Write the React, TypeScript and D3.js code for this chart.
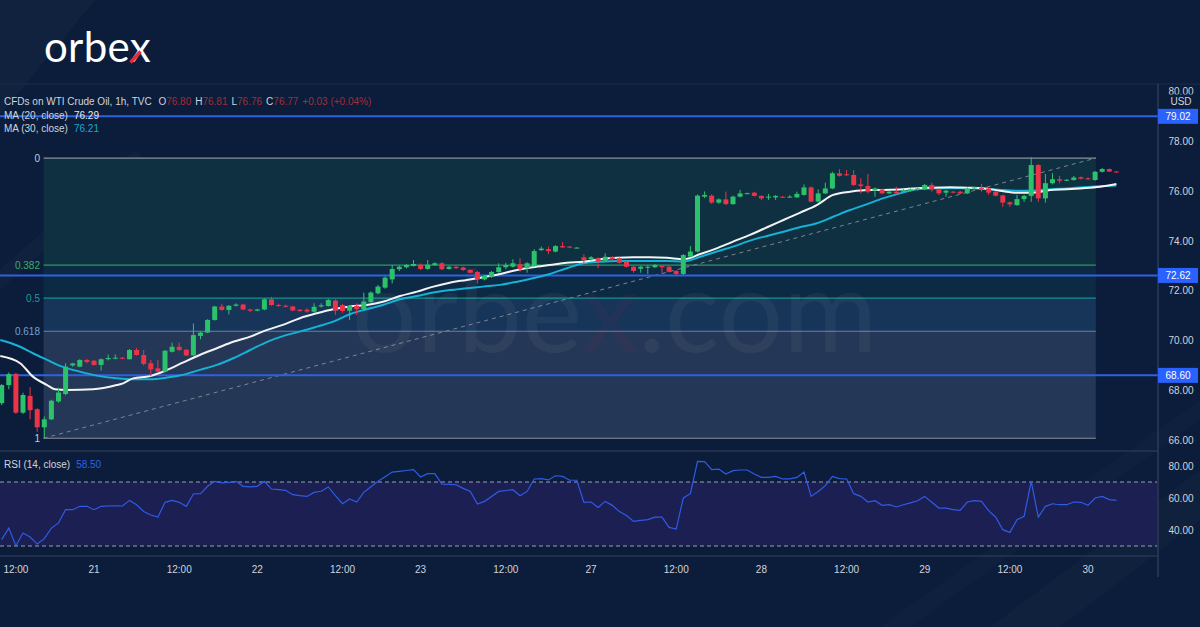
import React from 'react';
import * as d3 from 'd3';

// ---- Candle data (hourly, WTI CFD) ----
const opens = [
  67.48, 68.21, 68.66, 67.10, 67.77, 67.24, 66.51, 66.83, 67.55, 67.85,
  69.00, 68.95, 69.22, 69.19, 69.02, 69.25, 69.27, 69.31, 69.25, 69.62,
  69.42, 69.09, 68.88, 68.75, 69.55, 69.75, 69.63, 69.40, 70.19, 70.32,
  70.83, 71.37, 71.23, 71.40, 71.45, 71.25, 71.20, 71.25, 71.66, 71.43,
  71.40, 71.37, 71.24, 71.24, 71.16, 71.37, 71.39, 71.61, 71.43, 71.20,
  71.40, 71.26, 71.55, 71.90, 72.13, 72.46, 72.87, 72.95, 73.00, 73.05,
  72.88, 73.04, 73.11, 72.88, 72.97, 72.94, 72.84, 72.76, 72.46, 72.57,
  72.76, 72.95, 72.97, 73.07, 72.91, 73.00, 73.64, 73.68, 73.58, 73.80,
  73.78, 73.73, 73.35, 73.28, 73.31, 73.21, 73.35, 73.31, 73.17, 72.97,
  72.89, 72.95, 72.95, 73.00, 72.97, 72.80, 72.68, 73.38, 73.58, 75.79,
  75.83, 75.55, 75.68, 75.49, 75.79, 75.91, 75.95, 75.82, 75.75, 75.76,
  75.79, 75.78, 75.76, 75.86, 76.16, 75.59, 75.92, 76.12, 76.73, 76.69,
  76.66, 76.28, 76.22, 76.03, 76.08, 75.92, 75.99, 75.99, 76.03, 76.06,
  76.08, 76.26, 76.08, 75.95, 75.99, 75.99, 75.92, 76.12, 76.15, 76.12,
  75.99, 75.84, 75.56, 75.45, 75.69, 75.82, 77.06, 75.72, 76.33, 76.49,
  76.45, 76.46, 76.57, 76.53, 76.46, 76.79, 76.90, 76.80,
];
const highs = [
  68.25, 68.72, 68.70, 67.90, 68.12, 67.28, 66.95, 67.62, 68.10, 69.09,
  69.10, 69.25, 69.26, 69.22, 69.28, 69.44, 69.44, 69.34, 69.66, 69.70,
  69.62, 69.22, 69.22, 69.62, 69.92, 69.92, 69.66, 70.69, 70.36, 70.86,
  71.40, 71.48, 71.43, 71.50, 71.48, 71.28, 71.28, 71.70, 71.76, 71.48,
  71.45, 71.40, 71.27, 71.30, 71.50, 71.50, 71.68, 71.66, 71.47, 71.42,
  71.50, 71.93, 71.98, 72.24, 72.58, 73.04, 73.02, 73.08, 73.24, 73.10,
  73.24, 73.15, 73.15, 73.00, 73.00, 72.98, 72.86, 72.80, 72.64, 72.80,
  73.11, 73.13, 73.27, 73.31, 73.15, 73.68, 73.78, 73.78, 73.84, 73.96,
  73.80, 73.76, 73.47, 73.40, 73.34, 73.51, 73.40, 73.34, 73.20, 73.00,
  73.00, 73.02, 73.08, 73.02, 73.00, 72.83, 73.48, 73.80, 75.88, 76.00,
  75.88, 75.72, 75.99, 75.83, 76.06, 75.95, 75.98, 75.84, 75.90, 75.85,
  75.81, 75.85, 75.99, 76.28, 76.20, 76.08, 76.35, 76.79, 76.89, 76.86,
  76.86, 76.53, 76.70, 76.16, 76.11, 76.03, 76.19, 76.10, 76.12, 76.16,
  76.30, 76.35, 76.12, 76.06, 76.02, 76.02, 76.16, 76.19, 76.30, 76.15,
  76.02, 75.87, 75.59, 75.86, 75.86, 77.37, 77.10, 76.70, 76.73, 76.62,
  76.50, 76.62, 76.60, 76.56, 76.82, 76.94, 76.92, 76.81,
];
const lows = [
  67.40, 68.04, 67.05, 67.05, 66.83, 66.33, 66.07, 66.80, 67.50, 67.80,
  68.95, 68.93, 69.08, 69.00, 68.79, 69.20, 69.25, 69.25, 69.24, 69.40,
  69.00, 68.57, 68.72, 68.72, 69.52, 69.58, 69.38, 69.38, 70.05, 70.30,
  70.80, 71.20, 71.05, 71.37, 71.22, 71.15, 71.18, 71.22, 71.40, 71.36,
  71.33, 71.18, 71.15, 71.12, 71.12, 71.33, 71.36, 71.03, 71.12, 70.83,
  71.03, 71.22, 71.50, 71.86, 72.08, 72.30, 72.80, 72.90, 72.98, 72.84,
  72.85, 73.00, 72.84, 72.85, 72.88, 72.80, 72.70, 72.30, 72.42, 72.52,
  72.72, 72.87, 72.94, 72.77, 72.73, 72.96, 73.60, 73.48, 73.55, 73.72,
  73.72, 73.71, 73.11, 73.22, 72.91, 73.18, 73.24, 73.10, 72.94, 72.73,
  72.73, 72.68, 72.92, 72.68, 72.74, 72.60, 72.64, 73.35, 73.55, 75.73,
  75.50, 75.50, 75.45, 75.46, 75.76, 75.89, 75.80, 75.65, 75.66, 75.66,
  75.74, 75.74, 75.74, 75.83, 75.56, 75.56, 75.89, 76.09, 76.60, 76.62,
  76.22, 75.92, 75.92, 75.79, 75.89, 75.89, 75.89, 75.96, 76.00, 76.03,
  76.05, 75.99, 75.86, 75.79, 75.92, 75.89, 75.89, 76.09, 75.99, 75.86,
  75.80, 75.38, 75.38, 75.42, 75.58, 75.58, 75.58, 75.55, 76.28, 76.33,
  76.42, 76.43, 76.48, 76.46, 76.43, 76.76, 76.78, 76.76,
];
const closes = [
  68.21, 68.65, 67.10, 67.81, 67.20, 66.51, 66.83, 67.58, 67.91, 68.95,
  69.08, 69.22, 69.14, 69.02, 69.25, 69.30, 69.31, 69.27, 69.62, 69.42,
  69.06, 68.84, 68.75, 69.59, 69.75, 69.62, 69.40, 70.22, 70.32, 70.83,
  71.37, 71.23, 71.40, 71.45, 71.25, 71.20, 71.25, 71.66, 71.43, 71.39,
  71.37, 71.21, 71.19, 71.17, 71.36, 71.42, 71.63, 71.20, 71.19, 71.39,
  71.26, 71.57, 71.93, 72.17, 72.53, 72.88, 72.97, 73.04, 73.08, 72.88,
  73.05, 73.11, 72.87, 72.97, 72.91, 72.84, 72.73, 72.46, 72.60, 72.76,
  72.95, 73.04, 73.11, 72.87, 73.11, 73.60, 73.70, 73.60, 73.80, 73.75,
  73.74, 73.74, 73.24, 73.35, 73.18, 73.37, 73.27, 73.13, 72.97, 72.80,
  72.97, 72.97, 73.04, 72.95, 72.77, 72.68, 73.44, 73.58, 75.83, 75.86,
  75.55, 75.68, 75.49, 75.79, 75.92, 75.93, 75.82, 75.72, 75.79, 75.82,
  75.76, 75.79, 75.90, 76.16, 75.59, 75.92, 76.12, 76.73, 76.63, 76.65,
  76.26, 76.22, 75.99, 76.12, 75.92, 75.99, 75.92, 76.06, 76.08, 76.12,
  76.26, 76.08, 75.92, 76.03, 75.95, 75.92, 76.12, 76.16, 76.10, 75.95,
  75.83, 75.55, 75.48, 75.69, 75.82, 77.06, 75.72, 76.33, 76.49, 76.43,
  76.47, 76.56, 76.51, 76.49, 76.79, 76.90, 76.80, 76.77,
];

// ---- Moving averages (bar position, value) ----
const ma20Idx = [-0.2, 2.6, 4.4, 6.4, 7.5, 9.2, 12.9, 16.2, 17.1, 18.5, 20.9, 23.3, 25.5, 27.9, 30.3, 32.6, 35, 37.4, 39.6, 42, 44.4, 46.7, 49.1, 51.4, 53.7, 56.1, 58.5, 60.8, 63.1, 65.5, 67.8, 70.2, 72.6, 74.8, 77.2, 79.6, 81.9, 84.3, 86.7, 88.9, 91.3, 93.7, 96, 98.4, 100.7, 103, 105.4, 107.8, 110.1, 112.4, 114.8, 117.1, 119.5, 121.9, 124.1, 126.5, 128.9, 131.2, 133.6, 136, 138.2, 140.6, 143, 145.3, 147.7, 150, 152.3, 154.7, 157];
const ma20Val = [69.38, 69.09, 68.55, 68.21, 68.04, 68.01, 68.04, 68.21, 68.28, 68.48, 68.57, 68.82, 69.11, 69.42, 69.69, 69.95, 70.16, 70.43, 70.63, 70.9, 71.1, 71.26, 71.37, 71.43, 71.56, 71.79, 71.97, 72.17, 72.33, 72.44, 72.55, 72.68, 72.84, 72.95, 73.04, 73.13, 73.17, 73.27, 73.33, 73.35, 73.35, 73.33, 73.27, 73.48, 73.71, 73.98, 74.25, 74.56, 74.85, 75.14, 75.45, 75.86, 75.99, 76.06, 76.06, 76.08, 76.13, 76.15, 76.17, 76.15, 76.13, 76.03, 75.95, 75.95, 76.06, 76.09, 76.13, 76.19, 76.3];
const ma30Idx = [-0.2, 2.6, 4.4, 6.4, 8.2, 11, 13.8, 16.2, 18.5, 20.9, 23.3, 25.5, 27.9, 30.3, 32.6, 35, 37.4, 39.6, 42, 44.4, 46.7, 49.1, 51.4, 53.7, 56.1, 58.5, 60.8, 63.1, 65.5, 67.8, 70.2, 72.6, 74.8, 77.2, 79.6, 81.9, 84.3, 86.7, 88.9, 91.3, 93.7, 96, 98.4, 100.7, 103, 105.4, 107.8, 110.1, 112.4, 114.8, 117.1, 119.5, 121.9, 124.1, 126.5, 128.9, 131.2, 133.6, 136, 138.2, 140.6, 143, 145.3, 147.7, 150, 152.3, 154.7, 157];
const ma30Val = [70.02, 69.75, 69.49, 69.22, 68.98, 68.75, 68.57, 68.48, 68.44, 68.44, 68.51, 68.62, 68.82, 69.02, 69.29, 69.62, 69.95, 70.18, 70.36, 70.56, 70.76, 71.07, 71.26, 71.43, 71.66, 71.79, 71.93, 72.03, 72.1, 72.17, 72.24, 72.37, 72.51, 72.68, 72.91, 73.11, 73.17, 73.2, 73.2, 73.2, 73.2, 73.18, 73.37, 73.58, 73.78, 74.02, 74.21, 74.38, 74.56, 74.72, 74.98, 75.25, 75.49, 75.72, 75.92, 76.09, 76.13, 76.13, 76.13, 76.11, 76.06, 76.03, 76.03, 76.09, 76.12, 76.17, 76.21, 76.24];

// ---- RSI (14) per bar ----
const rsiVal = [
  34, 41.2, 30.2, 38.1, 35.6, 31.2, 34.6, 41.2, 44.4, 52.7,
  52.7, 54.8, 54.8, 52.7, 54.8, 55, 55.1, 55, 58.5, 55.8,
  51.6, 49.4, 48.1, 57.3, 58.5, 57.3, 54.8, 62.5, 62.7, 67.3,
  70.4, 69.4, 69.8, 70.4, 67.3, 66.9, 67.3, 70.4, 65.6, 65.2,
  64.8, 62.1, 61.5, 61, 63.5, 64.2, 66.9, 61.5, 56.4, 59.4,
  57.5, 63.5, 67, 70.4, 73.3, 76.2, 76.7, 77.2, 77.7, 73.1,
  75.2, 75.2, 68.7, 68.5, 68.3, 66, 64.1, 56.2, 57.9, 61,
  64.1, 64.7, 65.2, 61.4, 64.1, 71.9, 72.1, 71.3, 73.9, 73.5,
  71.1, 71.1, 57.3, 57.5, 54.1, 57.9, 55.4, 51.5, 49, 45.4,
  46, 46.5, 48, 48, 41.6, 40.6, 60, 62.7, 82.9, 82.7,
  77.7, 78.1, 75, 77.1, 77.5, 77.5, 75, 72.9, 72.9, 73.5,
  71.9, 71.9, 72.9, 76.2, 61, 64.1, 67.7, 73.5, 72.1, 71.9,
  62.7, 61, 57.5, 58.3, 55.4, 55.8, 54.4, 55.8, 57, 58.3,
  61, 57.3, 53.7, 53.7, 52.7, 52.3, 57.5, 58.3, 57.9, 52.1,
  48, 40.2, 38.5, 46.5, 48.5, 70.4, 48, 54.8, 56.4, 55.8,
  55.8, 57.5, 57.3, 55.4, 60, 61, 59, 58.5,
];

// ---- Axes / annotations ----
const priceTicks = [80, 78, 76, 74, 72, 70, 68, 66];
const rsiTicks = [80, 60, 40];
const rsiBands = [70, 30];
const levelPrices = [79.02, 72.62, 68.6];
const fibRatios = [0, 0.382, 0.5, 0.618, 1];
const fibLabels = ['0', '0.382', '0.5', '0.618', '1'];
const fibHigh = 77.34;
const fibLow = 66.07;
const fibStartIdx = 5.9;
const fibEndIdx = 154.1;
const timeTickIdx = [2, 13, 25, 36, 48, 59, 71, 83, 95, 107, 119, 130, 142, 153];
const timeTickLabels = ['12:00', '21', '12:00', '22', '12:00', '23', '12:00', '27', '12:00', '28', '12:00', '29', '12:00', '30'];

const FONT = '"Liberation Sans", Arial, sans-serif';
const BG = '#0b1d3a';
const UP = '#2cc26c';
const DOWN = '#ec3448';
const AXIS_TXT = '#d1d4dc';

export default function App() {
  const W = 1200;
  const H = 627;
  const plotR = 1158;
  const paneTop = 84;
  const priceBottom = 451;
  const rsiBottom = 556;

  const x = d3.scaleLinear().domain([0, 157]).range([1.7, 1116.4]);
  const y = d3.scaleLinear().domain([66, 78]).range([440, 141.7]);
  const ry = d3.scaleLinear().domain([40, 80]).range([530, 466]);

  const candles = d3.range(opens.length).map((i) => ({
    i, o: opens[i], h: highs[i], l: lows[i], c: closes[i],
  }));
  const bw = 5;

  const ma20 = ma20Idx.map((d, k) => [d, ma20Val[k]] as [number, number]);
  const ma30 = ma30Idx.map((d, k) => [d, ma30Val[k]] as [number, number]);
  const maLine = d3.line<[number, number]>()
    .x((d) => x(d[0]))
    .y((d) => y(d[1]))
    .curve(d3.curveMonotoneX);

  const rsiLine = d3.line<number>()
    .x((_, i) => x(i))
    .y((d) => ry(d));

  const fibPrice = (r: number) => fibHigh - r * (fibHigh - fibLow);
  const fx0 = x(fibStartIdx);
  const fx1 = x(fibEndIdx);
  const fibLineColors = ['#8a8f9c', '#2e9a62', '#15948a', '#5f86b0', '#8a8f9c'];
  const fibTextColors = ['#c9ccd4', '#3fae6e', '#1c9c94', '#6ea3d8', '#c9ccd4'];
  const fibFills = ['#0f3040', '#0d2a45', '#173459', '#253756'];

  return (
    <svg
      width={W}
      height={H}
      viewBox={`0 0 ${W} ${H}`}
      style={{ position: 'absolute', left: 0, top: 0, display: 'block' }}
      fontFamily={FONT}
    >
      <defs>
        <clipPath id="priceClip">
          <rect x={0} y={paneTop} width={plotR} height={priceBottom - paneTop} />
        </clipPath>
        <clipPath id="rsiClip">
          <rect x={0} y={priceBottom} width={plotR} height={rsiBottom - priceBottom} />
        </clipPath>
        <clipPath id="axisClip">
          <rect x={plotR} y={paneTop} width={W - plotR} height={priceBottom - paneTop} />
        </clipPath>
      </defs>

      {/* background */}
      <rect x={0} y={0} width={W} height={H} fill={BG} />
      <polygon points="0,0 95,0 0,115" fill="#ffffff" opacity={0.025} />
      <polygon points="0,270 135,150 145,160 0,290" fill="#ffffff" opacity={0.02} />
      <polygon points="990,627 1200,470 1200,520 1060,627" fill="#ffffff" opacity={0.02} />
      <polygon points="880,627 1200,400 1200,420 910,627" fill="#ffffff" opacity={0.015} />

      {/* logo */}
      <text x={44} y={62} fontFamily='Lato, "Open Sans", sans-serif' fontSize={42} fill="#ffffff" letterSpacing={0.3}>
        orbex
      </text>
      <line x1={130.5} y1={62.5} x2={140.5} y2={51.5} stroke="#e8283c" strokeWidth={3.4} />

      {/* pane borders */}
      <line x1={0} x2={W} y1={paneTop} y2={paneTop} stroke="#1b2c48" strokeWidth={1} />

      {/* Fibonacci retracement */}
      <g clipPath="url(#priceClip)">
        {fibFills.map((c, k) => (
          <rect
            key={'ff' + k}
            x={fx0}
            y={y(fibPrice(fibRatios[k]))}
            width={fx1 - fx0}
            height={y(fibPrice(fibRatios[k + 1])) - y(fibPrice(fibRatios[k]))}
            fill={c}
          />
        ))}
        {fibRatios.map((r, k) => (
          <line
            key={'fl' + k}
            x1={fx0}
            x2={fx1}
            y1={y(fibPrice(r))}
            y2={y(fibPrice(r))}
            stroke={fibLineColors[k]}
            strokeWidth={1.2}
          />
        ))}
        <line
          x1={fx0}
          y1={y(fibLow)}
          x2={fx1}
          y2={y(fibHigh)}
          stroke="#7d8391"
          strokeWidth={1}
          strokeDasharray="4 4"
        />
      </g>
      {fibRatios.map((r, k) => (
        <text
          key={'ft' + k}
          x={40}
          y={y(fibPrice(r))}
          dy="0.35em"
          textAnchor="end"
          fontSize={10}
          fill={fibTextColors[k]}
        >
          {fibLabels[k]}
        </text>
      ))}

      {/* watermark */}
      <text x={352} y={352} fontFamily='Lato, "Open Sans", sans-serif' fontSize={114} fill="#ffffff" opacity={0.045}>
        orbe<tspan fill="#ff3355">x</tspan>.com
      </text>

      {/* horizontal levels */}
      {levelPrices.map((p, k) => (
        <line key={'lv' + k} x1={0} x2={plotR} y1={y(p)} y2={y(p)} stroke="#2f62e0" strokeWidth={2} />
      ))}

      {/* moving averages */}
      <g clipPath="url(#priceClip)">
        <path d={maLine(ma30) || ''} fill="none" stroke="#16b1d6" strokeWidth={2} />
        <path d={maLine(ma20) || ''} fill="none" stroke="#f2f3f5" strokeWidth={2} />
      </g>

      {/* candles */}
      <g clipPath="url(#priceClip)">
        {candles.map((d) => {
          const col = d.c >= d.o ? UP : DOWN;
          const top = y(Math.max(d.o, d.c));
          const bot = y(Math.min(d.o, d.c));
          return (
            <g key={'c' + d.i}>
              <line x1={x(d.i)} x2={x(d.i)} y1={y(d.h)} y2={y(d.l)} stroke={col} strokeWidth={1} />
              <rect x={x(d.i) - bw / 2} y={top} width={bw} height={Math.max(1, bot - top)} fill={col} />
            </g>
          );
        })}
      </g>

      {/* legend */}
      <g fontSize={10}>
        <text x={4} y={105} fill={AXIS_TXT}>
          CFDs on WTI Crude Oil, 1h, TVC{'  '}
          <tspan dx={4}>O</tspan><tspan fill="#a22c38">76.80</tspan>
          <tspan dx={4}>H</tspan><tspan fill="#a22c38">76.81</tspan>
          <tspan dx={4}>L</tspan><tspan fill="#a22c38">76.76</tspan>
          <tspan dx={4}>C</tspan><tspan fill="#a22c38">76.77</tspan>
          <tspan dx={4} fill="#a22c38">+0.03 (+0.04%)</tspan>
        </text>
        <text x={4} y={119} fill={AXIS_TXT}>
          MA (20, close)<tspan dx={6} fill="#e8e9ec">76.29</tspan>
        </text>
        <text x={4} y={132} fill={AXIS_TXT}>
          MA (30, close)<tspan dx={6} fill="#19a9d0">76.21</tspan>
        </text>
      </g>

      {/* price pane / rsi separators */}
      <line x1={0} x2={plotR} y1={priceBottom} y2={priceBottom} stroke="#34425a" strokeWidth={1} />
      <line x1={0} x2={plotR} y1={rsiBottom} y2={rsiBottom} stroke="#34425a" strokeWidth={1} />

      {/* RSI pane */}
      <rect
        x={0}
        y={ry(rsiBands[0])}
        width={plotR - 1}
        height={ry(rsiBands[1]) - ry(rsiBands[0])}
        fill="#1c1f52"
      />
      {rsiBands.map((b) => (
        <line
          key={'rb' + b}
          x1={0}
          x2={plotR - 1}
          y1={ry(b)}
          y2={ry(b)}
          stroke="#9aa0ad"
          strokeWidth={1}
          strokeDasharray="4 3"
        />
      ))}
      <g clipPath="url(#rsiClip)">
        <path d={rsiLine(rsiVal) || ''} fill="none" stroke="#2f5be6" strokeWidth={1.2} />
      </g>
      <text x={4} y={468} fontSize={10} fill={AXIS_TXT}>
        RSI (14, close)<tspan dx={6} fill="#2f62e6">58.50</tspan>
      </text>

      {/* right axis */}
      <line x1={plotR} x2={plotR} y1={paneTop} y2={577} stroke="#3c4860" strokeWidth={1} />
      <g clipPath="url(#axisClip)">
        {priceTicks.map((t) => (
          <text key={'pt' + t} x={1181} y={y(t)} dy="0.35em" textAnchor="middle" fontSize={10} fill={AXIS_TXT}>
            {t.toFixed(2)}
          </text>
        ))}
        <rect x={plotR + 1} y={94.5} width={W - plotR - 1} height={13} fill={BG} />
        <text x={1181} y={101} dy="0.35em" textAnchor="middle" fontSize={10} fill={AXIS_TXT}>USD</text>
      </g>
      {levelPrices.map((p, k) => (
        <g key={'lb' + k}>
          <rect x={plotR} y={y(p) - 7.5} width={40} height={15} fill="#2962ff" />
          <text x={1178} y={y(p)} dy="0.35em" textAnchor="middle" fontSize={10} fill="#ffffff">
            {p.toFixed(2)}
          </text>
        </g>
      ))}
      {rsiTicks.map((t) => (
        <text key={'rt' + t} x={1181} y={ry(t)} dy="0.35em" textAnchor="middle" fontSize={10} fill={AXIS_TXT}>
          {t.toFixed(2)}
        </text>
      ))}

      {/* time axis */}
      {timeTickIdx.map((i, k) => (
        <text key={'tt' + k} x={x(i)} y={569} dy="0.35em" textAnchor="middle" fontSize={10} fill={AXIS_TXT}>
          {timeTickLabels[k]}
        </text>
      ))}
    </svg>
  );
}
